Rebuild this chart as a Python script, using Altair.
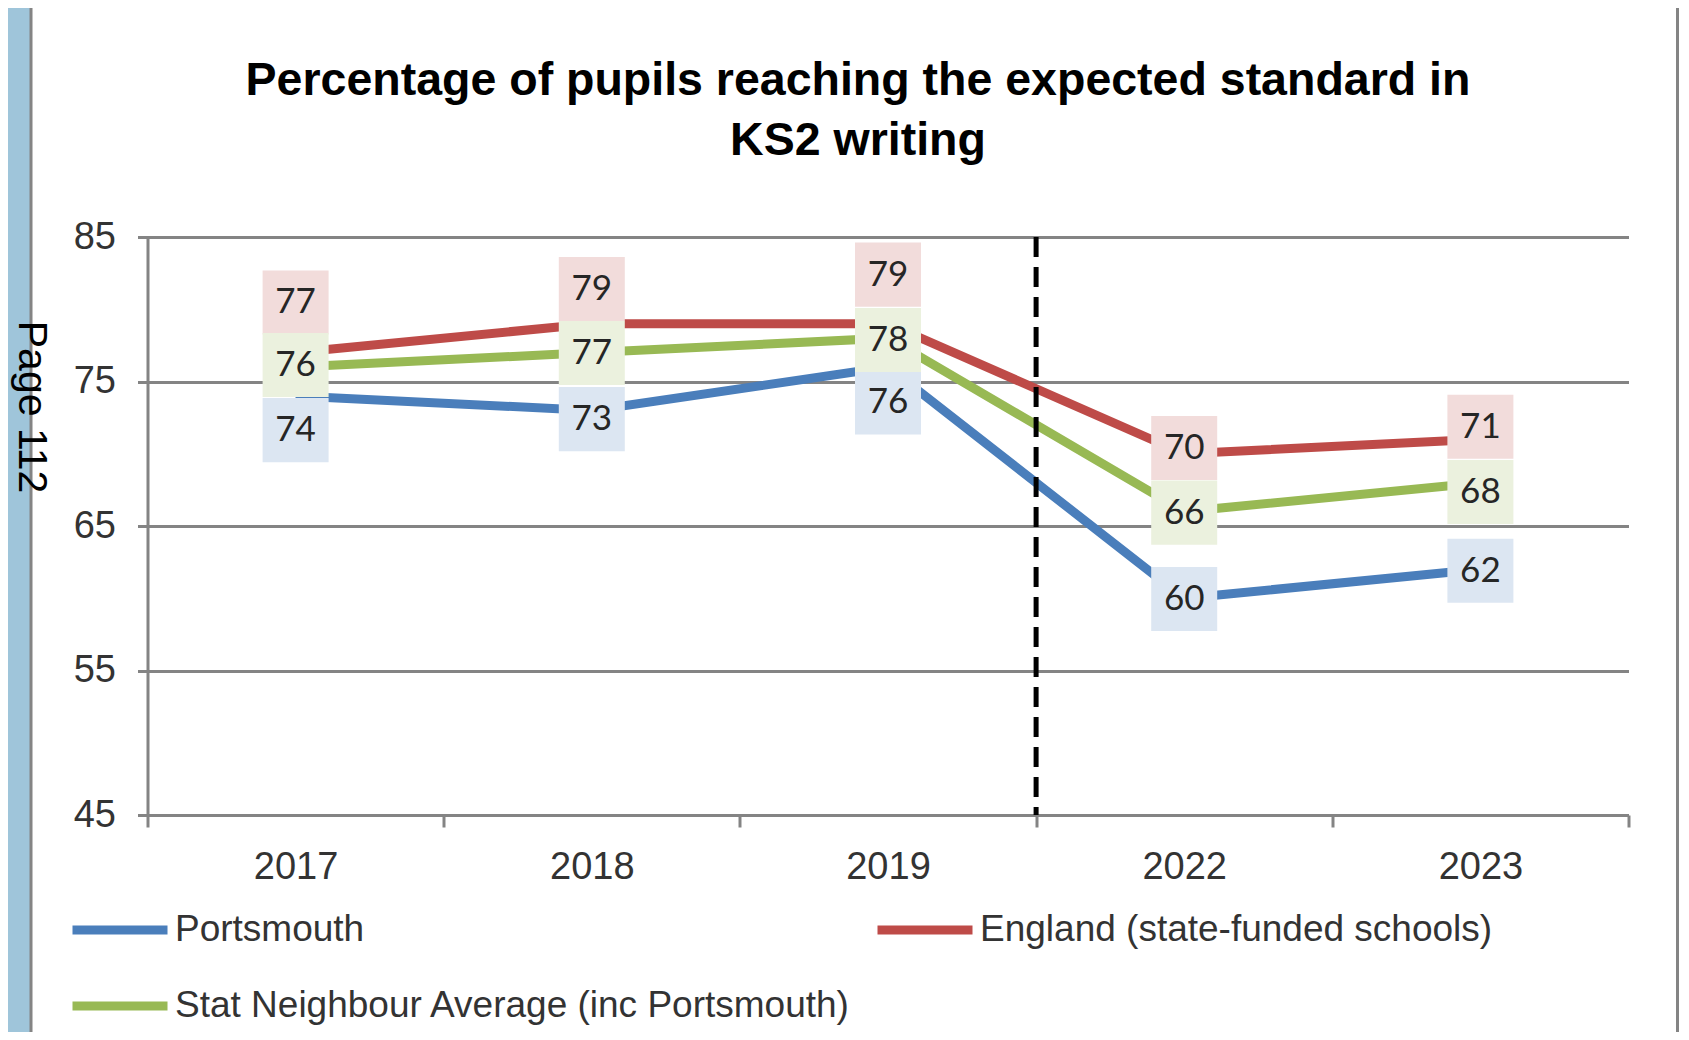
import altair as alt
import pandas as pd

# ---------------- data ----------------
years = ["2017", "2018", "2019", "2022", "2023"]
series_names = [
    "Portsmouth",
    "England (state-funded schools)",
    "Stat Neighbour Average (inc Portsmouth)",
]
portsmouth = [74, 73, 76, 60, 62]
england = [77, 79, 79, 70, 71]
stat_neighbour = [76, 77, 78, 66, 68]
y_ticks = [45, 55, 65, 75, 85]
title_lines = ["Percentage of pupils reaching the expected standard in", "KS2 writing"]
page_label = ["Page 112"]
break_before = ["2022"]

# ---------------- styling / layout ----------------
line_colors = ["#4A7EBB", "#BE4B48", "#98B954"]
box_colors = ["#DCE6F2", "#F2DCDB", "#EBF1DE"]
GRAY = "#848484"
TXT = "#333333"
SANS = "Liberation Sans, Arial"
# vertical nudge of each data label (value units), as placed in the original
label_nudge = {
    "Portsmouth": [-2.36, -0.6, -2.45, -0.05, -0.1],
    "England (state-funded schools)": [3.47, 2.4, 3.4, 0.4, 0.87],
    "Stat Neighbour Average (inc Portsmouth)": [0.14, -0.03, -0.13, -0.07, -0.65],
}
BOX_HALF = 2.22

W, H = 1481, 578
PAD = {"left": 139.5, "top": 229, "right": 51.5, "bottom": 217}

rows = []
for name, vals in zip(series_names, [portsmouth, england, stat_neighbour]):
    for i, (yr, v) in enumerate(zip(years, vals)):
        c = v + label_nudge[name][i]
        rows.append(dict(year=yr, series=name, value=v, lab=c, lo=c - BOX_HALF, hi=c + BOX_HALF))
df = pd.DataFrame(rows)

x_scale = alt.Scale(domain=years, paddingInner=0, paddingOuter=0)
y_scale = alt.Scale(domain=[45, 85], nice=False, zero=False)

x_axis = alt.Axis(
    title=None, labelFont=SANS, labelFontSize=38, labelColor=TXT, labelAngle=0,
    labelBaseline="middle", labelPadding=40, tickBand="extent", tickSize=12,
    tickColor=GRAY, tickWidth=3, domainColor=GRAY, domainWidth=3, grid=False,
)
y_axis = alt.Axis(
    title=None, values=y_ticks, labelFont=SANS, labelFontSize=38, labelColor=TXT,
    labelPadding=22, tickSize=10, tickColor=GRAY, tickWidth=3, domainColor=GRAY,
    domainWidth=3, grid=True, gridColor=GRAY, gridWidth=3,
)


def X(**kw):
    return alt.X("year:N", scale=x_scale, axis=x_axis, sort=years, **kw)


def Y(field):
    return alt.Y(field, scale=y_scale, axis=y_axis)


base = alt.Chart(df)

lines = base.mark_line(strokeWidth=9).encode(
    x=X(),
    y=Y("value:Q"),
    color=alt.Color(
        "series:N",
        scale=alt.Scale(domain=series_names, range=line_colors),
        legend=alt.Legend(
            title=None, orient="none", direction="horizontal", legendX=-79.5,
            legendY=641, columns=2, columnPadding=8, rowPadding=6,
            symbolType="stroke", symbolSize=9025, symbolStrokeWidth=9,
            labelFont=SANS, labelFontSize=37, labelColor=TXT, labelOffset=3,
            labelLimit=2000, padding=0,
        ),
    ),
)

divider = alt.Chart(pd.DataFrame({"year": break_before})).mark_rule(
    color="black", strokeWidth=5, strokeDash=[20, 10]
).encode(x=X(bandPosition=0), y=alt.datum(85), y2=alt.datum(45))

boxes = base.mark_bar(width=66).encode(
    x=X(),
    y=Y("lo:Q"),
    y2="hi:Q",
    fill=alt.Fill("series:N", scale=alt.Scale(domain=series_names, range=box_colors), legend=None),
)

labels = base.mark_text(font="Lato", fontSize=35, color="#262626", baseline="middle").encode(
    x=X(), y=Y("lab:Q"), text="value:Q"
)

deco = alt.Chart(pd.DataFrame({"t": page_label}))
strip = deco.mark_rect(color="#9FC5DA").encode(
    x=alt.value(-139.5), x2=alt.value(-116.5), y=alt.value(-229), y2=alt.value(795)
)
border_l = deco.mark_rule(color=GRAY, strokeWidth=3).encode(
    x=alt.value(-116.5), y=alt.value(-229), y2=alt.value(795)
)
border_r = deco.mark_rule(color=GRAY, strokeWidth=3).encode(
    x=alt.value(1530), y=alt.value(-229), y2=alt.value(795)
)
page_txt = deco.mark_text(
    font=SANS, fontSize=41, color="black", angle=90,
    align="center", baseline="middle",
).encode(x=alt.value(-117), y=alt.value(170), text="t:N")

chart = alt.layer(
    strip, border_l, border_r, lines, divider, boxes, labels, page_txt
).properties(
    width=W,
    height=H,
    autosize=alt.AutoSizeParams(type="none"),
    padding=PAD,
    background="white",
    title=alt.Title(
        text=title_lines, font=SANS, fontSize=46.5, fontWeight="bold", color="black",
        anchor="middle", frame="group", dx=-30, baseline="bottom", lineHeight=60,
        offset=-205,
    ),
).configure_view(stroke=None)

chart.save("out.html", embed_options={"renderer": "svg", "actions": False})
